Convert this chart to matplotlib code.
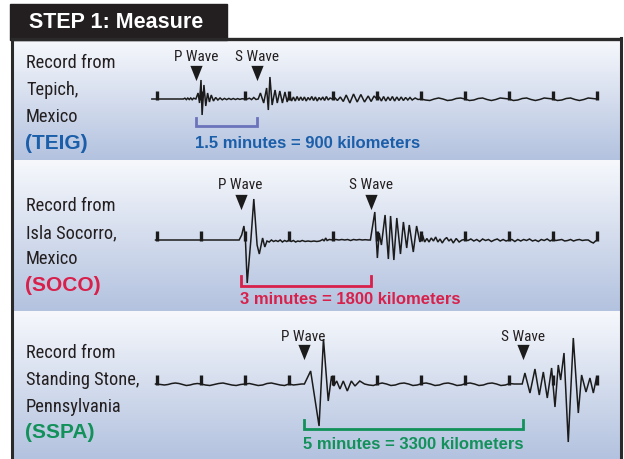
import numpy as np
import matplotlib
matplotlib.use('Agg')
import matplotlib.pyplot as plt
from matplotlib import font_manager
from matplotlib.patches import Rectangle
from matplotlib.colors import to_rgb

# Seismogram readings: time (s after trace start) and trace deflection
teig_t = [-7, 36, 38, 40, 42, 44, 46, 48, 50, 53, 56, 58, 60, 61.5, 64, 66.5, 69, 71.5, 74, 77,
          80, 83, 86, 89, 92, 95, 98, 101, 104, 107, 110, 113, 116, 119, 123, 126, 129, 132, 135, 138,
          141, 145.5, 149.5, 151.8, 154, 157, 161, 164, 167.5, 171, 174.5, 177.5, 180.5, 183.5, 186,
          188.5, 191, 193.5, 196, 198.5, 201, 203.5, 206, 208.5, 211, 213.5, 216, 218.5, 221, 223.5,
          226, 228.5, 231, 233.5, 236, 239, 243, 246, 250, 254, 258, 263, 268, 273, 278, 283, 288, 292,
          296, 300, 303, 306, 309, 312, 315, 318, 321, 324, 327, 330, 333, 336, 339, 342, 345, 348, 352,
          356, 360, 366, 372, 378, 384, 390, 396, 402, 408, 414, 420, 426, 432, 438, 444, 450, 456, 462,
          468, 474, 480, 486, 492, 498, 504, 510, 516, 522, 528, 534, 540, 546, 552, 558, 564, 570, 576,
          582, 588, 594, 600]
teig_a = [0, 0, 0.8, -0.6, 0.9, -0.5, 1.0, -0.7, 0.8, 0, 6, -4, 19, -16, 14, -7, 6, -3, 4, -2,
          1.5, -1, 1, -0.8, 0.6, -0.6, 0.6, -0.5, 0.5, -0.5, 0.4, -0.4, 0.3, 0, 0, 0.8, -0.6, 1.5, -0.5, 0,
          6, -4, 11, -11, 22, -6, 9, -4, 8, -4, 7, -3, 5, -2, 2,
          -2, 2.5, -1.5, 2, -1.5, 2, -2, 1.5, -1, 2.5, -1.5, 2, -2, 1.5, -1,
          2, -1.5, 2.5, -1, 1, 0, 1, -1.5, 2, -2.5, 4, -4, 5, -3, 4.5, -3, 3, -2.5,
          3, 0, 2, -2, 2.5, -2, 2, -1.5, 2.5, -2, 2, -1.5, 2, -1.5, 1.5, -1, 1.5, -1, 1,
          -0.5, 0, -1, -1.5, 0, 1, 0, -1.5, -1, 0.5, 1, 0, -1.5, -1, 0.5, 1, -0.5, -1.5, -0.5,
          1, 0.5, 0, -1.5, -1, 0.5, 1, -0.5, -1.5, -0.5, 1, 0.5, 0, -1.5, -1, 0.5, 1, -0.5, -1.5,
          -0.5, 1, 0.5, 0]

soco_t = [-2, 112, 115.5, 118.5, 120.5, 123, 128, 132, 136.5, 139.5, 144, 147, 150, 153, 156, 159,
          162, 165, 168, 171, 174, 177, 180, 183, 186, 189, 192, 195, 198, 202, 206, 210, 214, 218,
          222, 226, 228, 230, 232, 235, 240, 244, 248, 252, 256, 260, 264, 268, 272, 276, 280, 284,
          288, 291, 297, 300.5, 303, 306, 311, 315.5, 318.5, 323, 327, 332, 336, 340.5, 344, 349.5,
          354, 358.5, 362, 365, 368, 371, 374, 377, 380, 383, 386, 389, 392, 395, 398, 401, 404, 408,
          412, 416, 420, 424, 428, 432, 436, 440, 444, 448, 452, 456, 460, 464, 468, 472, 476, 480,
          484, 488, 492, 496, 500, 504, 508, 512, 516, 520, 524, 528, 532, 536, 540, 544, 548, 552,
          556, 560, 564, 568, 572, 576, 580, 584, 588, 592, 595, 598, 600]
soco_a = [0, 0, 5, 14, 2, -43, 0, 41, -5, -14, 2, -7, -1, -2, 0, -1.5,
          -0.5, -1.5, 0, -2, -0.5, -1.5, 0, -1.5, -0.5, -2, -1, -1.5, -0.5, -1.5, -1, -1.5, -1, -1.5,
          -1, 0.5, -1, 2, -0.5, 0.5, 0, 0.5, 0, 0.5, 0, 0.5, -0.5, 0.5, 0, 0.5, 0, 0.3,
          0, 0, 28, -18, 7, -5, 25, -19, 24, -20, 22, -14, 18, -8, 15, -12,
          14, -2, 5, -2, 1.5, -2, 2, -1, 3, -2, 1, -3, 0.5, 2.5, -1, 1, -3, 1.5,
          -2, 0, 0.5, -0.5, 1, -1, 0.5, -1.5, 1, -0.5, 0.5, -1.5, 0, 1, -1, 0.5, -1, 0,
          0.5, -1.5, 0.5, -1, 0.5, -0.5, 1, -1, 0, -1.5, 0.5, -0.5, 1, -1, 0.5, -0.5, 0, 0.5,
          -1, -0.5, 0.5, -1, 0, 0.5, -0.5, 0, 0, -2, -3, -1, 0]

sspa_t = [-2, 5, 10, 15, 20, 25, 30, 35, 40, 45, 50, 55, 60, 66, 72, 78, 84, 90, 96, 102, 108,
          114, 120, 126, 132, 138, 144, 150, 156, 162, 168, 174, 180, 186, 192, 197, 201, 209.5, 221,
          227, 233.5, 238, 241, 245, 249.5, 254, 259.5, 265, 270, 276.5, 283, 289, 295, 301, 307, 313,
          319, 325, 331, 337, 343, 349, 355, 361, 367, 373, 379, 385, 391, 397, 403, 409, 415, 421,
          427, 433, 439, 445, 451, 457, 463, 469, 475, 481, 487, 493, 498, 501.7, 508.6, 515.4, 521.3,
          526.8, 532.2, 538.1, 542.7, 547.2, 550.4, 555, 560.8, 567.7, 574.5, 579, 585, 590.4, 595,
          599.5]
sspa_a = [0, -0.5, -1, -0.5, 0.5, 1, 0.5, -0.5, -1.5, -1, 0, 0.5, 0, -1, -1.5, -0.5, 0.5, 1, 0, -1,
          -1.5, -0.5, 0, 0.5, -0.5, -1.5, -1, 0.5, 1, 0, -1, -1.5, 0, -1, -0.5, 0, 0, 13, -42,
          45, -17, 8, -2, 3, -5, 3, -7, 3, -2, 3, 0, -1, -1.5, 0, 1, 0, -1.5, -1, 0.5, 1, 0, -1.5, -1,
          0.5, 1, 0, -1.5, -1, 0.5, 1, 0, -1.5, -1, 0.5, 1, 0, -1.5, -1, 0.5, 1, 0, -1.5, -1, 0.5, 0,
          0, 0, 11, -9, 15, -11, 12, -14, 16, -23, 19, 4, 31, -58, 46, -29, 9, -8, 6, -9, 7]

minute_marks = [0, 60, 120, 180, 240, 300, 360, 420, 480, 540, 600]

p_arrival = [53, 114, 200]
s_arrival = [136, 292, 499]

stations = ["TEIG", "SOCO", "SSPA"]
places = [["Tepich,", "Mexico"], ["Isla Socorro,", "Mexico"], ["Standing Stone,", "Pennsylvania"]]
notes = ["1.5 minutes = 900 kilometers", "3 minutes = 1800 kilometers", "5 minutes = 3300 kilometers"]

traces_t = [teig_t, soco_t, sspa_t]
traces_a = [teig_a, soco_a, sspa_a]

# ---- look ----
W, H = 624, 460
INK = '#1b1b1b'
FRAME = '#2a2a2a'
text_cols = ['#1b5ea9', '#d8204b', '#12915a']
bracket_cols = ['#6b74bb', '#d8204b', '#12915a']

# panel y extents (px from top) and baseline
panels = [(41, 161, 100), (161, 312, 241), (312, 460, 385)]
label_y = [[63, 90, 117, 144], [206, 233, 259, 286], [353, 380, 407, 433]]
# (arrow, wave label, bracket top, bracket bottom, note) offsets in px from baseline
marks = [(26, 43, -19, -27, -44), (38, 56, -36, -46, -59), (32, 48, -36, -45, -60)]
tick_h = [8, 9, 9.5]

X0, X1 = 140, 615
T0_PX = 157
PX_PER_S = 44 / 60.0


def pick_font(names, fallback):
    for name in names:
        try:
            font_manager.findfont(name, fallback_to_default=False)
            return name
        except Exception:
            pass
    return fallback


narrow = pick_font(['Nimbus Sans Narrow', 'Liberation Sans Narrow', 'Roboto Condensed',
                    'Archivo Narrow'], 'DejaVu Sans')
bold = pick_font(['Liberation Sans'], 'DejaVu Sans')

fig = plt.figure(figsize=(W / 100, H / 100), dpi=100)
fig.patch.set_facecolor('white')

bg = fig.add_axes([0, 0, 1, 1])
bg.set_xlim(0, W)
bg.set_ylim(H, 0)
bg.axis('off')

# gradient panels
top_c = np.array(to_rgb('#f6f8fc'))
bot_c = np.array(to_rgb('#b3c2df'))
for (y0, y1, yb) in panels:
    f = np.linspace(0, 1, 200)[:, None, None]
    grad = top_c * (1 - f) + bot_c * f
    bg.imshow(grad, extent=[13, 620, y1, y0], aspect='auto', interpolation='bilinear', zorder=0)

# frame and title tab
bg.add_patch(Rectangle((10, 5), 217, 36, color='#231f20', zorder=2))
bg.plot([11, 622], [40, 40], color=FRAME, lw=2.4, zorder=3, solid_capstyle='butt')
bg.plot([12, 12], [40, 460], color=FRAME, lw=2.2, zorder=3)
bg.plot([621, 621], [39, 460], color=FRAME, lw=2.2, zorder=3)
bg.text(29, 23, "STEP 1: Measure", color='white', fontsize=15.5, fontweight='bold',
        family=bold, va='center', ha='left', zorder=4)

# station labels
for i in range(3):
    ys = label_y[i]
    bg.text(26, ys[0], "Record from", fontsize=13.2, family=narrow, color='#231f20', va='center')
    bg.text(26, ys[1], places[i][0], fontsize=13.2, family=narrow, color='#231f20', va='center')
    bg.text(26, ys[2], places[i][1], fontsize=13.2, family=narrow, color='#231f20', va='center')
    bg.text(25, ys[3], "(" + stations[i] + ")", fontsize=15, family=bold, fontweight='bold',
            color=text_cols[i], va='center')

tri = [(-0.8, 1), (0.8, 1), (0, -1)]

for i in range(3):
    y0, y1, yb = panels[i]
    ax = fig.add_axes([X0 / W, 1 - y1 / H, (X1 - X0) / W, (y1 - y0) / H])
    ax.set_xlim((X0 - T0_PX) / PX_PER_S, (X1 - T0_PX) / PX_PER_S)
    ax.set_ylim(yb - y1, yb - y0)
    ax.axis('off')
    ax.patch.set_alpha(0)

    ax.plot(traces_t[i], traces_a[i], color=INK, lw=1.1, solid_joinstyle='miter')
    ax.vlines(minute_marks, -1, tick_h[i], color=INK, lw=2.4)

    arr, lab, bt, bb, nt = marks[i]
    p, s = p_arrival[i], s_arrival[i]
    for tt, name in [(p, "P Wave"), (s, "S Wave")]:
        ax.plot(tt, arr, marker=tri, ms=11, color=INK, mew=0, clip_on=False)
        ax.text(tt, lab, name, ha='center', va='center', fontsize=11, family=narrow,
                color='#231f20', clip_on=False)

    ax.plot([p, p, s, s], [bt, bb, bb, bt], color=bracket_cols[i], lw=2.0,
            solid_joinstyle='miter', clip_on=False)
    ax.text(p - 1, nt, notes[i], ha='left', va='center', fontsize=12, fontweight='bold',
            family=bold, color=text_cols[i], clip_on=False)

fig.savefig('out.png', dpi=100)
